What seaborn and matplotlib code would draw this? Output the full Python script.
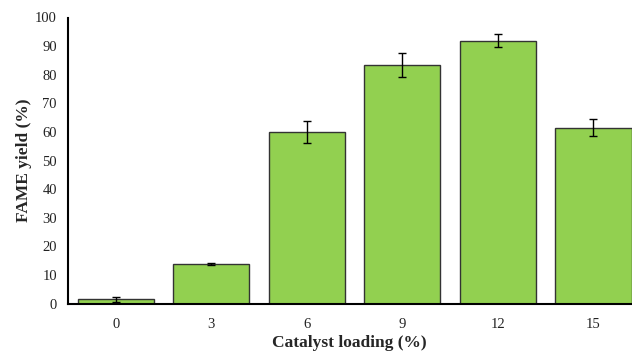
import matplotlib
matplotlib.use("Agg")
import matplotlib.pyplot as plt
import seaborn as sns
import pandas as pd

loading = ["0", "3", "6", "9", "12", "15"]
yield_pct = [1.5, 13.8, 60.0, 83.5, 91.9, 61.5]
yield_err = [1.0, 0.3, 3.7, 4.2, 2.2, 3.0]

df = pd.DataFrame({"loading": loading, "yield": yield_pct})

sns.set_theme(style="white")
plt.rcParams["font.family"] = ["Liberation Serif", "DejaVu Serif"]

fig = plt.figure(figsize=(6.32, 3.53), dpi=100)
ax = fig.add_axes([68 / 632, 49.3 / 353, (631.5 - 68) / 632, (303.7 - 17.5) / 353])

sns.barplot(data=df, x="loading", y="yield", color="#92D050", saturation=1,
            width=0.8, edgecolor="#333333", linewidth=1.0, errorbar=None, ax=ax)
ax.errorbar(range(len(loading)), yield_pct, yerr=yield_err, fmt="none",
            ecolor="black", elinewidth=1.0, capsize=3, capthick=1.0)

ax.set_ylim(0, 100)
ax.set_xlim(-0.5, 5.4)
ax.set_yticks(range(0, 101, 10))
ax.tick_params(axis="y", direction="out", length=4, width=1, labelsize=10.5, pad=4, colors="black")
ax.tick_params(axis="x", length=0, labelsize=10.5, pad=10, colors="black")
for lab in ax.get_yticklabels() + ax.get_xticklabels():
    lab.set_color("#222222")

for s in ["top", "right"]:
    ax.spines[s].set_visible(False)
ax.spines["left"].set_color("black")
ax.spines["left"].set_linewidth(1.5)
ax.spines["bottom"].set_color("black")
ax.spines["bottom"].set_linewidth(1.5)

ax.set_xlabel("Catalyst loading (%)", fontsize=12.5, fontweight="bold", labelpad=3)
ax.set_ylabel("FAME yield (%)", fontsize=12.5, fontweight="bold", labelpad=2)

fig.savefig("out.png", dpi=100)
